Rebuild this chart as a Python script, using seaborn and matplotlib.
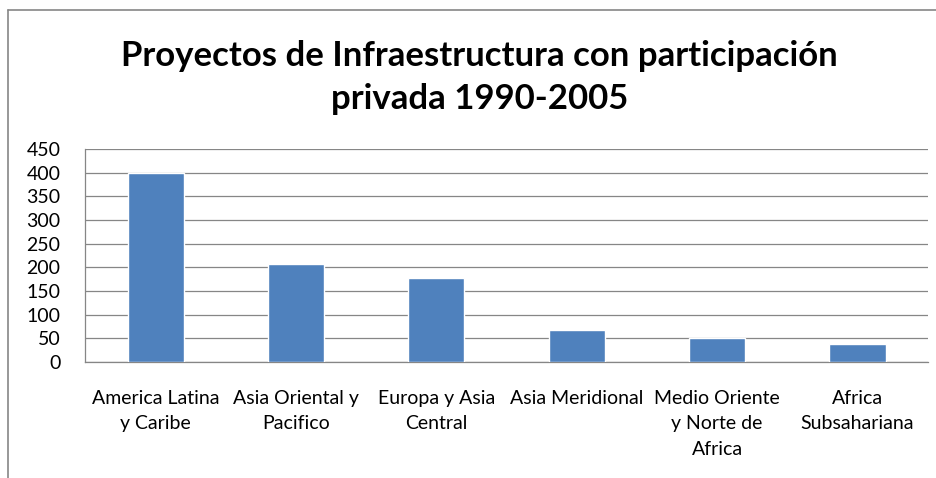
import matplotlib
matplotlib.use("Agg")
import matplotlib.pyplot as plt
import seaborn as sns
import pandas as pd
from matplotlib.lines import Line2D

categories = ["America Latina\ny Caribe", "Asia Oriental y\nPacifico", "Europa y Asia\nCentral",
              "Asia Meridional", "Medio Oriente\ny Norte de\nAfrica", "Africa\nSubsahariana"]
values = [400, 207, 178, 68, 50, 38]
yticks = [0, 50, 100, 150, 200, 250, 300, 350, 400, 450]
title = "Proyectos de Infraestructura con participación\nprivada 1990-2005"

sns.set_theme(style="white")
plt.rcParams['font.family'] = ['Lato', 'DejaVu Sans']

df = pd.DataFrame({"cat": categories, "val": values})

fig = plt.figure(figsize=(9.37, 4.78), dpi=100)
ax = fig.add_axes([0.0912, 0.2427, 0.990 - 0.0912, 0.6883 - 0.2427])
sns.barplot(data=df, x="cat", y="val", color="#4F81BD", width=0.4, saturation=1, ax=ax, zorder=3)

ax.set_ylim(0, 450)
ax.set_yticks(yticks)
ax.set_xlim(-0.5, len(categories) - 0.5)
ax.yaxis.grid(True, color="#868686", linewidth=0.9, zorder=0)
ax.set_axisbelow(True)
ax.set_xlabel("")
ax.set_ylabel("")
for s in ["top", "right"]:
    ax.spines[s].set_visible(False)
for s in ["left", "bottom"]:
    ax.spines[s].set_color("#868686")
    ax.spines[s].set_linewidth(0.9)
ax.tick_params(axis="both", length=0, labelsize=14, colors="#000000")
ax.tick_params(axis="y", pad=18)
ax.tick_params(axis="x", pad=20)
for lab in ax.get_xticklabels():
    lab.set_horizontalalignment("center")
    lab.set_linespacing(1.6)

fig.text(0.512, 0.838, title, ha="center", va="center", fontsize=25, fontweight="bold",
         linespacing=1.45, color="#000000")

fig.add_artist(Line2D([0.0085, 0.0085], [0, 0.979], color="#868686", linewidth=1.2, transform=fig.transFigure))
fig.add_artist(Line2D([0.0085, 1.0], [0.979, 0.979], color="#868686", linewidth=1.2, transform=fig.transFigure))

fig.savefig("out.png", dpi=100)
